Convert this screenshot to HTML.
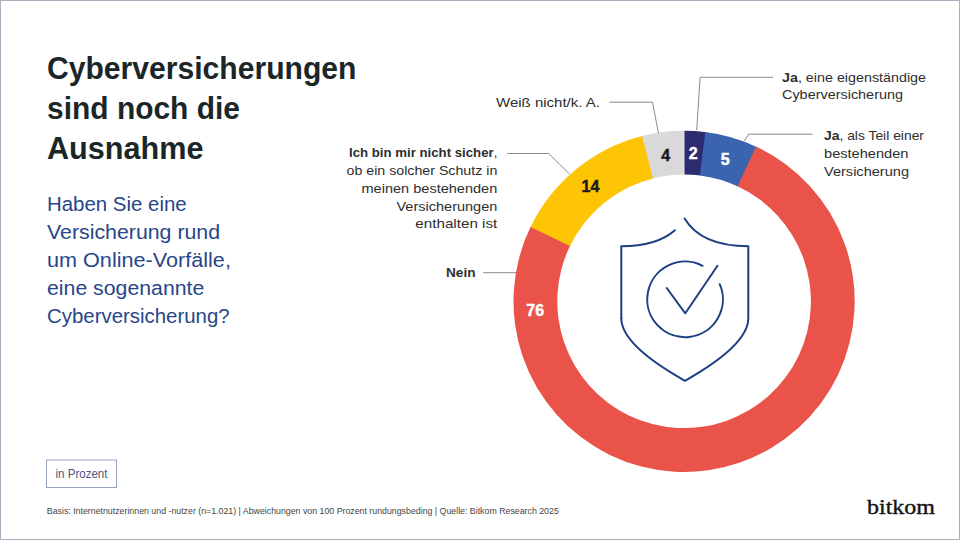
<!DOCTYPE html>
<html><head><meta charset="utf-8"><style>
html,body{margin:0;padding:0;background:#fff;}
body{width:960px;height:540px;overflow:hidden;}
svg{display:block;}
text{font-family:"Liberation Sans", sans-serif;}
</style></head><body>
<svg width="960" height="540" viewBox="0 0 960 540">
<rect x="0" y="0" width="960" height="540" fill="#ffffff"/>
<rect x="0.5" y="0.5" width="959" height="539" fill="none" stroke="#a9b0bd" stroke-width="1"/>
<path d="M684.10 130.70A170.6 170.6 0 0 1 706.45 132.17L700.71 175.59A126.8 126.8 0 0 0 684.10 174.50Z" fill="#2c2b6f"/>
<path d="M705.27 132.02A170.6 170.6 0 0 1 757.14 147.13L738.39 186.71A126.8 126.8 0 0 0 699.84 175.48Z" fill="#3a63b0"/>
<path d="M756.07 146.62A170.6 170.6 0 1 1 531.08 225.87L570.37 245.23A126.8 126.8 0 1 0 737.59 186.33Z" fill="#e9534a"/>
<path d="M530.56 226.94A170.6 170.6 0 0 1 643.24 135.67L653.73 178.19A126.8 126.8 0 0 0 569.98 246.03Z" fill="#fdc504"/>
<path d="M642.08 135.95A170.6 170.6 0 0 1 684.10 130.70L684.10 174.50A126.8 126.8 0 0 0 652.87 178.41Z" fill="#d9d9da"/>
<line x1="684.1" y1="130.5" x2="684.1" y2="174.7" stroke="#f2f2f4" stroke-width="0.6"/>
<g fill="none" stroke="#8c8c8c" stroke-width="1">
<polyline points="696.7,130 700.1,77.3 773,77.3"/>
<polyline points="744.4,141 748.6,134.2 812.8,134.2"/>
<polyline points="658.5,133.5 652.5,102.2 609.3,102.2"/>
<polyline points="569.6,174.2 548.75,153.5 507.1,153.5"/>
<polyline points="516,272.7 483.1,272.7"/>
</g>
<g fill="none" stroke="#1d3f84" stroke-width="2" stroke-linecap="round" stroke-linejoin="round">
<path d="M621.3 318.3L621.3 246.3Q656.8 246.3 674.9 230.3"/>
<path d="M684.6 218.6Q701.2 246.3 748.3 246.3L748.3 318.3Q748.3 345 685 380.8Q621.3 345 621.3 318.3"/>
<path d="M702.5 265.8A37.8 37.8 0 1 0 719.7 284.2"/>
<path d="M666.7 288L685.3 313.3L717.5 265.8"/>
</g>
<rect x="46.5" y="460" width="70" height="27.5" fill="none" stroke="#98a4bd" stroke-width="1"/>
<text x="47" y="79" font-size="31" fill="#1b2629" font-weight="700" textLength="309.5" lengthAdjust="spacingAndGlyphs" >Cyberversicherungen</text>
<text x="47" y="119" font-size="31" fill="#1b2629" font-weight="700" textLength="193" lengthAdjust="spacingAndGlyphs" >sind noch die</text>
<text x="47" y="159" font-size="31" fill="#1b2629" font-weight="700" textLength="156.5" lengthAdjust="spacingAndGlyphs" >Ausnahme</text>
<text x="47" y="210.8" font-size="20.5" fill="#27468a" font-weight="400" textLength="139.7" lengthAdjust="spacingAndGlyphs" >Haben Sie eine</text>
<text x="47" y="238.7" font-size="20.5" fill="#27468a" font-weight="400" textLength="173.1" lengthAdjust="spacingAndGlyphs" >Versicherung rund</text>
<text x="47" y="267" font-size="20.5" fill="#27468a" font-weight="400" textLength="183.9" lengthAdjust="spacingAndGlyphs" >um Online-Vorfälle,</text>
<text x="47" y="294.6" font-size="20.5" fill="#27468a" font-weight="400" textLength="157.3" lengthAdjust="spacingAndGlyphs" >eine sogenannte</text>
<text x="47" y="322.8" font-size="20.5" fill="#27468a" font-weight="400" textLength="182.6" lengthAdjust="spacingAndGlyphs" >Cyberversicherung?</text>
<text x="782" y="81.8" font-size="13.6" fill="#2e2e2e" textLength="144" lengthAdjust="spacingAndGlyphs"><tspan font-weight="700">Ja</tspan>, eine eigenständige</text>
<text x="782" y="99.1" font-size="13.6" fill="#2e2e2e" font-weight="400" textLength="121" lengthAdjust="spacingAndGlyphs" >Cyberversicherung</text>
<text x="824" y="140" font-size="13.6" fill="#2e2e2e" textLength="100" lengthAdjust="spacingAndGlyphs"><tspan font-weight="700">Ja</tspan>, als Teil einer</text>
<text x="824" y="157.7" font-size="13.6" fill="#2e2e2e" font-weight="400" textLength="84.5" lengthAdjust="spacingAndGlyphs" >bestehenden</text>
<text x="824" y="175.6" font-size="13.6" fill="#2e2e2e" font-weight="400" textLength="85" lengthAdjust="spacingAndGlyphs" >Versicherung</text>
<text x="496" y="106.5" font-size="13.6" fill="#2e2e2e" font-weight="400" textLength="104" lengthAdjust="spacingAndGlyphs" >Weiß nicht/k. A.</text>
<text x="446" y="276.9" font-size="13.6" fill="#2e2e2e" font-weight="700" textLength="29.5" lengthAdjust="spacingAndGlyphs" >Nein</text>
<text x="349.0" y="157" font-size="13.6" fill="#2e2e2e" textLength="148.3" lengthAdjust="spacingAndGlyphs"><tspan font-weight="700">Ich bin mir nicht sicher</tspan>,</text>
<text x="346.5" y="174.9" font-size="13.6" fill="#2e2e2e" textLength="150.8" lengthAdjust="spacingAndGlyphs">ob ein solcher Schutz in</text>
<text x="361.5" y="192.5" font-size="13.6" fill="#2e2e2e" textLength="135.8" lengthAdjust="spacingAndGlyphs">meinen bestehenden</text>
<text x="396.5" y="210.5" font-size="13.6" fill="#2e2e2e" textLength="100.8" lengthAdjust="spacingAndGlyphs">Versicherungen</text>
<text x="415.3" y="228.3" font-size="13.6" fill="#2e2e2e" textLength="82.0" lengthAdjust="spacingAndGlyphs">enthalten ist</text>
<text x="693.1" y="159.1" font-size="16" font-weight="700" fill="#ffffff" stroke="#ffffff" stroke-width="0.45" text-anchor="middle">2</text>
<text x="725.2" y="165" font-size="16" font-weight="700" fill="#ffffff" stroke="#ffffff" stroke-width="0.45" text-anchor="middle">5</text>
<text x="665.8" y="160.6" font-size="16" font-weight="700" fill="#1b1b1b" stroke="#1b1b1b" stroke-width="0.45" text-anchor="middle">4</text>
<text x="590.5" y="192.4" font-size="16" font-weight="700" fill="#1b1b1b" stroke="#1b1b1b" stroke-width="0.45" text-anchor="middle">14</text>
<text x="535.2" y="316.4" font-size="16" font-weight="700" fill="#ffffff" stroke="#ffffff" stroke-width="0.45" text-anchor="middle">76</text>
<text x="55.5" y="477.7" font-size="12" fill="#44577e" font-weight="400" textLength="52" lengthAdjust="spacingAndGlyphs" >in Prozent</text>
<text x="46.8" y="514" font-size="8.6" fill="#454545" font-weight="400" textLength="512" lengthAdjust="spacingAndGlyphs" >Basis: Internetnutzerinnen und -nutzer (n=1.021) | Abweichungen von 100 Prozent rundungsbeding | Quelle: Bitkom Research 2025</text>
<text x="867" y="514.1" style="font-family:'Liberation Serif',serif" font-size="22" fill="#141414" stroke="#141414" stroke-width="0.4" textLength="68" lengthAdjust="spacingAndGlyphs">bitkom</text>
</svg>
</body></html>
